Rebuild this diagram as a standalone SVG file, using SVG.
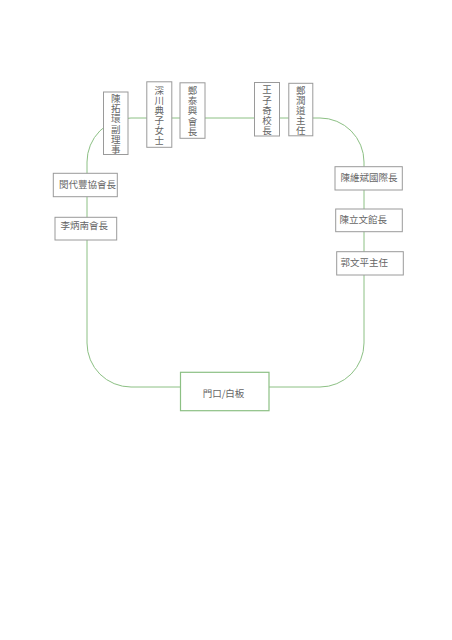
<svg xmlns="http://www.w3.org/2000/svg" width="452" height="640" viewBox="0 0 452 640">
<style>
.box{fill:#fff;stroke:#9a9a9a;stroke-width:1}
.bbox{fill:#fff;stroke:#8cc084;stroke-width:1.2}
.t{font-family:"Noto Sans CJK TC","Noto Sans CJK SC",sans-serif;font-size:9.5px;fill:#666}
.v{writing-mode:vertical-rl;text-anchor:middle;letter-spacing:0.6px}
.line{fill:none;stroke:#8cc084;stroke-width:1}
</style>
<rect width="452" height="640" fill="#fff"/>
<g id="connectors">
<path class="line" d="M131 118H320A44 44 0 0 1 364 162V343A44 44 0 0 1 320 387H131A44 44 0 0 1 87 343V162A44 44 0 0 1 131 118Z"/>
</g>
<g id="n1">
<rect class="box" x="103.5" y="92" width="24.5" height="62.5"/>
<text class="t v" x="115.8" y="124.2">陳拓環副理事</text>
</g>
<g id="n2">
<rect class="box" x="146.8" y="81.8" width="25" height="65.5"/>
<text class="t v" x="159.3" y="115.8">深川典子女士</text>
</g>
<g id="n3">
<rect class="box" x="180" y="82.8" width="25" height="55.5"/>
<text class="t v" x="192.5" y="111.2">鄭泰興會長</text>
</g>
<g id="n4">
<rect class="box" x="254.5" y="82.5" width="25" height="53.5"/>
<text class="t v" x="267" y="110.3">王子奇校長</text>
</g>
<g id="n5">
<rect class="box" x="288.8" y="83.3" width="24" height="52.5"/>
<text class="t v" x="300.8" y="110.5">鄭潤道主任</text>
</g>
<g id="n6">
<rect class="box" x="335" y="166.7" width="67.3" height="23.3"/>
<text class="t" x="340.5" y="181.3">陳維斌國際長</text>
</g>
<g id="n7">
<rect class="box" x="335.7" y="209" width="66.6" height="22.7"/>
<text class="t" x="339.5" y="223.2">陳立文館長</text>
</g>
<g id="n8">
<rect class="box" x="336.7" y="251.7" width="66.6" height="23.3"/>
<text class="t" x="340.5" y="266">郭文平主任</text>
</g>
<g id="n9">
<rect class="box" x="53.3" y="173.3" width="64" height="23.4"/>
<text class="t" x="59" y="188.3">閔代豐協會長</text>
</g>
<g id="n10">
<rect class="box" x="55" y="217.3" width="61.7" height="22.7"/>
<text class="t" x="60.5" y="229">李炳南會長</text>
</g>
<g id="n11">
<rect class="bbox" x="180.5" y="372.3" width="88.5" height="38.4"/>
<text class="t" x="223.5" y="396.8" text-anchor="middle">門口/白板</text>
</g>
</svg>
